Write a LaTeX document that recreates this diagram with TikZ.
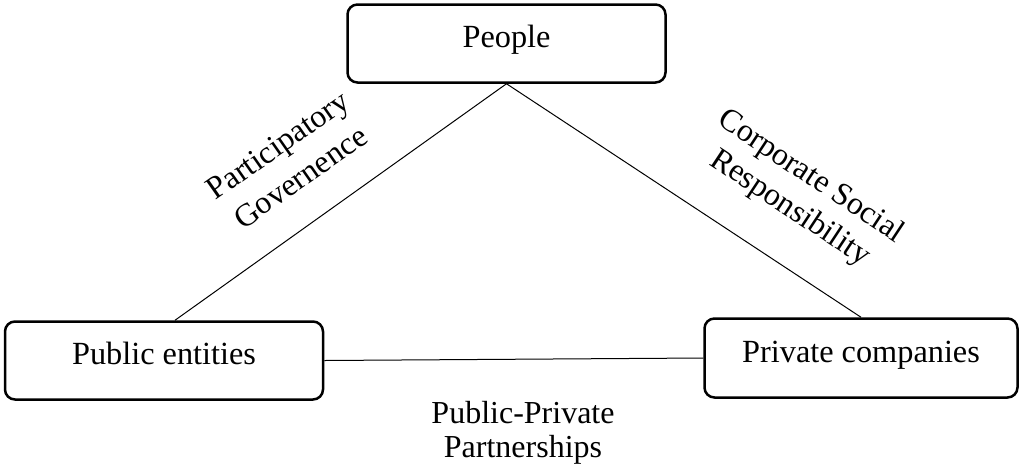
\documentclass[tikz,border=0pt]{standalone}
\usepackage{fontspec}
\setmainfont{Liberation Serif}
\begin{document}
\begin{tikzpicture}[x=1pt,y=-1pt,
  actor/.style={draw,line width=2.5pt,rounded corners=10pt,
    minimum width=318pt,minimum height=78pt,
    font=\fontsize{32.3}{38}\selectfont,text height=22pt,text depth=14pt},
  link/.style={line width=1pt},
  tag/.style={align=center,inner sep=0pt},
]
\useasboundingbox (0,0) rectangle (1022,467);

% the three parties
\node[actor] (ppl)  at (506.5,43.5) {People};
\node[actor] (pub)  at (164,360.5)  {Public entities};
\node[actor,minimum width=313pt,minimum height=79pt] (priv) at (861,358) {Private companies};

% relations between them
\draw[link] (ppl.south) -- ([xshift=11pt]pub.north);
\draw[link] (ppl.south) -- (priv.north);
\draw[link] (pub.east) -- (priv.west);

% relation names
\node[tag,rotate=35,font=\fontsize{32}{39.5}\selectfont] (pg) at (289,161)
  {Participatory\\Governence};
\node[tag,rotate=-33.5,font=\fontsize{32}{38}\selectfont] (csr) at (800,193)
  {Corporate Social\\Responsibility};
\node[tag,font=\fontsize{32}{34}\selectfont] (ppp) at (523,433)
  {Public-Private\\Partnerships};
\end{tikzpicture}
\end{document}
